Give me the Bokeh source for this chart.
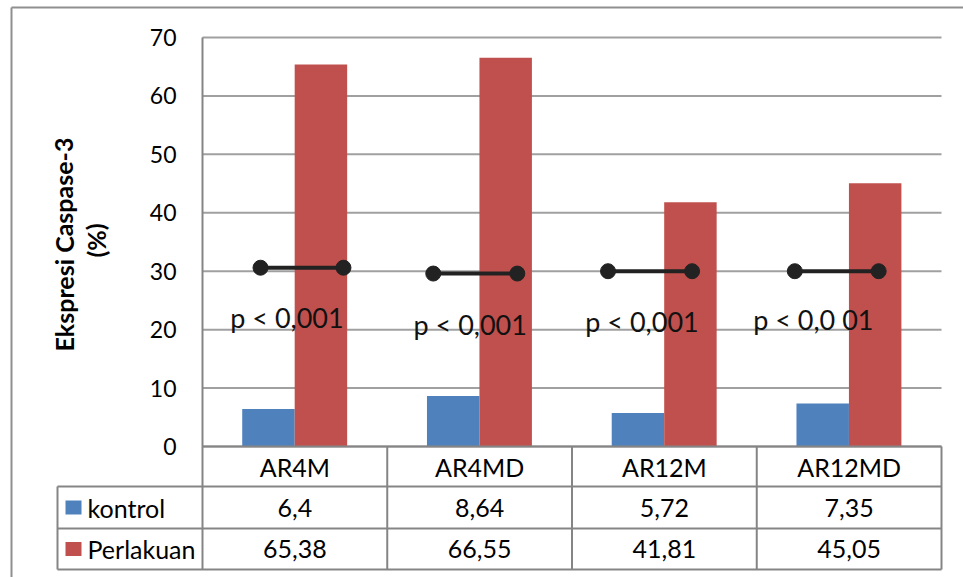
from bokeh.plotting import figure
from bokeh.models import Range1d
from bokeh.embed import file_html
from bokeh.resources import INLINE
from bokeh.core.properties import value

# ---------------- data ----------------
categories = ["AR4M", "AR4MD", "AR12M", "AR12MD"]
kontrol = [6.4, 8.64, 5.72, 7.35]
perlakuan = [65.38, 66.55, 41.81, 45.05]
kontrol_labels = ["6,4", "8,64", "5,72", "7,35"]
perlakuan_labels = ["65,38", "66,55", "41,81", "45,05"]
series_names = ["kontrol", "Perlakuan"]
y_ticks = [0, 10, 20, 30, 40, 50, 60, 70]
p_line_y = [30.6, 29.6, 30.0, 30.0]
p_labels = ["p  < 0,001", "p < 0,001", "p < 0,001", "p  < 0,0 01"]

# ---------------- layout helpers ----------------
W, H = 963, 577
X0_PX, CAT_PX = 202.0, 184.75          # plot-area left edge, px per category
Y0_PX, UNIT_PX = 446.0, 409.0 / 70.0   # y=0 pixel, px per value unit


def xd(px):
    return (px - X0_PX) / CAT_PX


def yd(py):
    return (Y0_PX - py) / UNIT_PX


FONT = value("Lato")
BLUE = "#4F81BD"
RED = "#C0504D"
GRID = "#A0A0A0"
TABLE = "#858585"

p = figure(width=W, height=H, output_backend="svg", toolbar_location=None,
           x_range=Range1d(xd(0), xd(W)), y_range=Range1d(yd(H), yd(0)),
           x_axis_type=None, y_axis_type=None, min_border=0)
p.outline_line_color = None
p.grid.visible = False
p.background_fill_color = "white"

n = len(categories)
idx = list(range(n))

# outer chart border (left & top visible)
p.segment(x0=[xd(11), xd(11)], y0=[yd(7), yd(7)], x1=[xd(11), xd(W)], y1=[yd(H), yd(7)],
          line_color="#8F8F8F", line_width=2)

# horizontal gridlines
p.segment(x0=[0] * len(y_ticks), x1=[n] * len(y_ticks), y0=y_ticks, y1=y_ticks,
          line_color=GRID, line_width=2)

# bars
kx = [i + 0.357 for i in idx]
px_ = [i + 0.641 for i in idx]
p.vbar(x=kx, top=kontrol, bottom=0, width=0.284, fill_color=BLUE, line_color=None)
p.vbar(x=px_, top=perlakuan, bottom=0, width=0.284, fill_color=RED, line_color=None)

# y tick labels
p.text(x=[xd(176)] * len(y_ticks), y=y_ticks, text=[str(t) for t in y_ticks],
       text_font=FONT, text_font_size="23px", text_align="right",
       text_baseline="middle", text_color="#000000")

# y axis title
p.text(x=[xd(63), xd(95)], y=[yd(241), yd(240)], text=["Ekspresi  Caspase-3", "(%)"],
       angle=1.5708, text_font=FONT, text_font_size="25px", text_font_style="bold",
       text_align="center", text_baseline="middle", text_color="#000000")

# p-value connectors
p_start = [0.314, 0.249, 0.195, 0.206]
p_end = [0.763, 0.704, 0.650, 0.660]
x0s = [i + s for i, s in zip(idx, p_start)]
x1s = [i + e for i, e in zip(idx, p_end)]
p.segment(x0=x0s, x1=x1s, y0=p_line_y, y1=p_line_y, line_color="#222222", line_width=4)
p.scatter(x=x0s + x1s, y=p_line_y + p_line_y, size=15, fill_color="#222222",
          line_color="#222222")
p_tx = [0.476, 0.449, 0.379, 0.325]
p_ty = [317, 324, 321, 319]
p.text(x=[i + t for i, t in zip(idx, p_tx)], y=[yd(v) for v in p_ty], text=p_labels,
       text_font=FONT, text_font_size="27px", text_align="center",
       text_baseline="middle", text_color="#111111")

# ---------------- data table ----------------
row_top = [446, 486, 528]
row_bot = [486, 528, 569]
row_mid = [(a + b) / 2 for a, b in zip(row_top, row_bot)]
leg_left = 57

# plot-area left axis line
p.segment(x0=[0], x1=[0], y0=[yd(37)], y1=[yd(569)], line_color=TABLE, line_width=2)
# horizontal table lines
hx0 = [0, xd(leg_left), xd(leg_left), xd(leg_left)]
hy = [yd(446), yd(486), yd(528), yd(569)]
p.segment(x0=hx0, x1=[n] * 4, y0=hy, y1=hy, line_color=TABLE, line_width=2)
# vertical table lines
vx = [float(i) for i in range(1, n + 1)]
p.segment(x0=vx, x1=vx, y0=[yd(446)] * n, y1=[yd(569)] * n, line_color=TABLE, line_width=2)
p.segment(x0=[xd(leg_left)], x1=[xd(leg_left)], y0=[yd(486)], y1=[yd(569)],
          line_color=TABLE, line_width=2)

cx = [i + 0.5 for i in idx]
p.text(x=cx, y=[yd(row_mid[0])] * n, text=categories, text_font=FONT,
       text_font_size="25px", text_align="center", text_baseline="middle",
       text_color="#000000")
p.text(x=cx, y=[yd(row_mid[1])] * n, text=kontrol_labels, text_font=FONT,
       text_font_size="25px", text_align="center", text_baseline="middle",
       text_color="#000000")
p.text(x=cx, y=[yd(row_mid[2])] * n, text=perlakuan_labels, text_font=FONT,
       text_font_size="25px", text_align="center", text_baseline="middle",
       text_color="#000000")

# legend keys in the table
p.quad(left=[xd(65)] * 2, right=[xd(81)] * 2,
       top=[yd(row_mid[1] - 7), yd(row_mid[2] - 7)],
       bottom=[yd(row_mid[1] + 7), yd(row_mid[2] + 7)],
       fill_color=[BLUE, RED], line_color=None)
p.text(x=[xd(87)] * 2, y=[yd(row_mid[1]), yd(row_mid[2])], text=series_names,
       text_font=FONT, text_font_size="25px", text_align="left",
       text_baseline="middle", text_color="#000000")

open("out.html", "w").write(file_html(p, INLINE))
